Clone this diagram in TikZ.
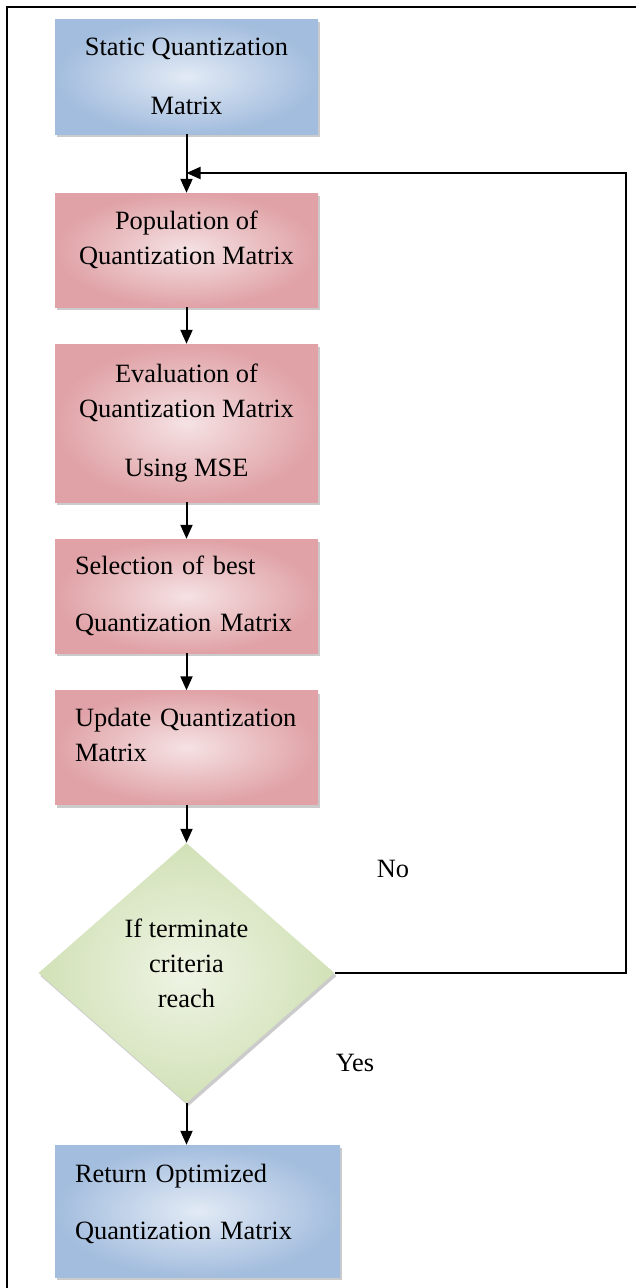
\documentclass[tikz,border=0pt]{standalone}
\usepackage{fontspec}
\setmainfont{Liberation Serif}
\usetikzlibrary{shapes.geometric,shadows,arrows.meta}

\definecolor{blueedge}{RGB}{163,189,222}
\definecolor{bluemid}{RGB}{226,234,245}
\definecolor{rededge}{RGB}{224,162,166}
\definecolor{redmid}{RGB}{245,226,228}
\definecolor{greenedge}{RGB}{210,225,183}
\definecolor{greenmid}{RGB}{238,244,228}

\tikzset{
    boxshadow/.style={drop shadow={shadow xshift=2pt, shadow yshift=-3pt, fill=black!45, opacity=0.45}},
    bluebox/.style={rectangle, boxshadow, inner color=bluemid, outer color=blueedge,
        minimum width=263pt, minimum height=115pt, inner sep=0pt},
    redbox/.style={rectangle, boxshadow, inner color=redmid, outer color=rededge,
        minimum width=263pt, minimum height=114pt, inner sep=0pt},
    leftbox/.style={align=left, inner xsep=20pt, text width=223pt},
    testbox/.style={diamond, boxshadow, inner color=greenmid, outer color=greenedge,
        minimum width=296pt, minimum height=260pt, inner sep=0pt, align=center},
    flow/.style={-{Triangle[length=14pt,width=12pt]}, line width=2pt}
}

\begin{document}
\begin{tikzpicture}[x=1pt, y=-1pt, font=\fontsize{26.4}{35}\selectfont]
        \useasboundingbox (0,0) rectangle (636,1288);

        % Frame
        \draw[line width=2.5pt] (7,1288) -- (7,7) -- (636,7);

        % Boxes
        \node[bluebox, align=center] (static) at (186.5,76.5) {Static Quantization\\[24pt]Matrix};
        \node[redbox, align=center, text depth=25pt] (pop) at (186.5,250) {Population of\\Quantization Matrix};
        \node[redbox, align=center, minimum height=158pt] (eval) at (186.5,423) {Evaluation of\\Quantization Matrix\\[24pt]Using MSE};
        \node[redbox, leftbox] (sel) at (186.5,596) {Selection of best\\[22pt]Quantization Matrix};
        \node[redbox, leftbox, text depth=61pt] (upd) at (186.5,747.5) {Update Quantization\\Matrix};

        % Decision
        \node[testbox, text depth=20pt] (dec) at (186.5,973) {If terminate\\criteria\\reach};

        % Result
        \node[bluebox, leftbox, text width=245pt, minimum height=132pt, text depth=76pt] (ret) at (197.5,1211) {Return Optimized\\[22pt]Quantization Matrix};

        % Branch labels
        \node (no) at (393,869) {No};
        \node (yes) at (355,1063) {Yes};

        % Arrows
        \coordinate (join) at (186.5,173);
        \draw[flow] (static) -- (pop);
        \draw[flow] (pop) -- (eval);
        \draw[flow] (eval) -- (sel);
        \draw[flow] (sel) -- (upd);
        \draw[flow] (upd) -- (dec);
        \draw[flow] (dec.south) -- (dec.south |- ret.north);
        \draw[flow] (dec.east) -- ++(291,0) |- (join);

    \end{tikzpicture}
\end{document}
